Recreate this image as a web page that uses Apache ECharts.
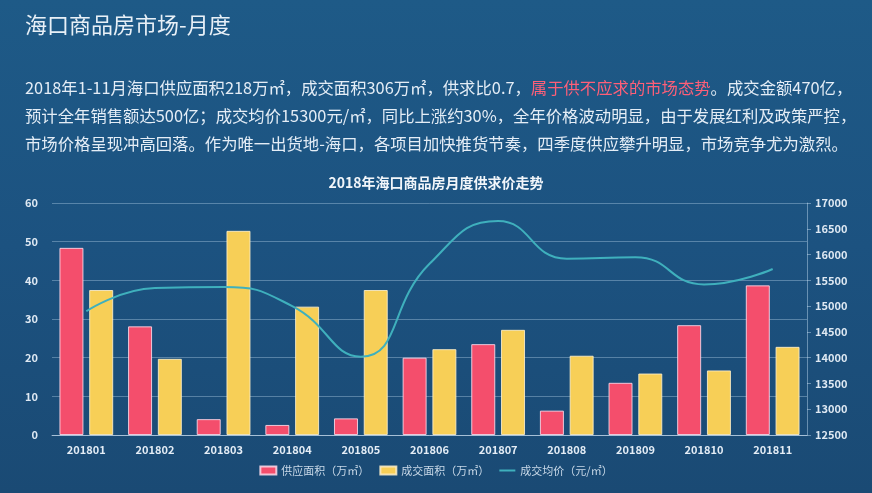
<!DOCTYPE html>
<html>
<head>
<meta charset="utf-8">
<script src="https://cdn.jsdelivr.net/npm/echarts@6/dist/echarts.min.js"></script>
<style>
html,body{margin:0;padding:0;background:#1c5280;}
#c{width:872px;height:493px;}
</style>
</head>
<body>
<div id="c"></div>
<script>
var categories = ['201801','201802','201803','201804','201805','201806','201807','201808','201809','201810','201811'];
var supplyArea = [48.4, 28.1, 4.1, 2.6, 4.3, 20.0, 23.5, 6.3, 13.5, 28.4, 38.7];
var dealArea = [37.5, 19.7, 52.8, 33.2, 37.5, 22.2, 27.2, 20.5, 15.9, 16.7, 22.8];
var avgPrice = [14900, 15350, 15370, 15000, 14020, 15820, 16650, 15920, 15950, 15420, 15720];
var seriesNames = ['供应面积（万㎡）', '成交面积（万㎡）', '成交均价（元/㎡）'];

var FONT = '"Noto Sans CJK SC", "Noto Sans", sans-serif';
var chart = echarts.init(document.getElementById('c'), null, {renderer: 'canvas'});
var txtColor = '#e4edf6';
var PFS = 16.35;

var option = {
  backgroundColor: {
    type: 'linear', x: 0, y: 0, x2: 0, y2: 1,
    colorStops: [
      {offset: 0, color: '#1e5a87'},
      {offset: 0.5, color: '#1c5280'},
      {offset: 1, color: '#1a4a74'}
    ]
  },
  textStyle: {fontFamily: FONT},
  title: [
    {
      text: '海口商品房市场-月度', left: 20, top: 9,
      textStyle: {color: '#e8f0f7', fontSize: 22, fontWeight: 'normal', fontFamily: FONT}
    },
    {
      text: '{a|2018年1-11月海口供应面积218万㎡，成交面积306万㎡，供求比0.7，}{r|属于供不应求的市场态势}{a|。成交金额470亿，}',
      left: 20, top: 75,
      textStyle: {
        fontWeight: 'normal',
        rich: {
          a: {color: txtColor, fontSize: PFS, fontWeight: 'normal', fontFamily: FONT},
          r: {color: '#ff5f78', fontSize: PFS, fontWeight: 'normal', fontFamily: FONT}
        }
      }
    },
    {
      text: '预计全年销售额达500亿；成交均价15300元/㎡，同比上涨约30%，全年价格波动明显，由于发展红利及政策严控，',
      left: 20, top: 103,
      textStyle: {color: txtColor, fontSize: PFS, fontWeight: 'normal', fontFamily: FONT}
    },
    {
      text: '市场价格呈现冲高回落。作为唯一出货地-海口，各项目加快推货节奏，四季度供应攀升明显，市场竞争尤为激烈。',
      left: 20, top: 131,
      textStyle: {color: txtColor, fontSize: PFS, fontWeight: 'normal', fontFamily: FONT}
    },
    {
      text: '2018年海口商品房月度供求价走势', left: 'center', top: 171,
      textStyle: {color: '#f2f6fa', fontSize: 14, fontWeight: 'bold', fontFamily: FONT}
    }
  ],
  legend: {
    bottom: 12, left: 'center',
    itemWidth: 16, itemHeight: 8, itemGap: 10,
    textStyle: {color: '#c9d9e8', fontSize: 11, fontFamily: FONT},
    data: [
      {name: seriesNames[0], icon: 'rect'},
      {name: seriesNames[1], icon: 'rect'},
      {name: seriesNames[2], icon: 'path://M0,0 L16,0 L16,2 L0,2 Z'}
    ]
  },
  grid: {left: 52, right: 65, top: 203, bottom: 58, containLabel: false},
  xAxis: {
    type: 'category', data: categories,
    axisLine: {lineStyle: {color: 'rgba(220,235,250,0.6)'}},
    axisTick: {show: false},
    axisLabel: {color: '#e4edf6', fontSize: 11, fontWeight: 'bold', margin: 9, fontFamily: FONT}
  },
  yAxis: [
    {
      type: 'value', min: 0, max: 60, interval: 10,
      axisLine: {show: false},
      axisTick: {show: false},
      axisLabel: {color: '#dfe9f3', fontSize: 11, fontWeight: 'bold', margin: 14, fontFamily: FONT},
      splitLine: {lineStyle: {color: 'rgba(200,225,245,0.35)', width: 1}}
    },
    {
      type: 'value', min: 12500, max: 17000, interval: 500,
      axisLine: {show: true, lineStyle: {color: 'rgba(200,225,245,0.45)'}},
      axisTick: {show: true, length: 4, lineStyle: {color: 'rgba(200,225,245,0.45)'}},
      axisLabel: {color: '#dfe9f3', fontSize: 11, fontWeight: 'bold', margin: 8, fontFamily: FONT,
        formatter: function (v) { return String(v); }},
      splitLine: {show: false}
    }
  ],
  series: [
    {
      name: seriesNames[0], type: 'bar', data: supplyArea, yAxisIndex: 0,
      barWidth: 24, barGap: '24%',
      itemStyle: {color: '#f44e6c', borderColor: 'rgba(255,220,235,0.85)', borderWidth: 1}
    },
    {
      name: seriesNames[1], type: 'bar', data: dealArea, yAxisIndex: 0,
      barWidth: 24,
      itemStyle: {color: '#f7cf57', borderColor: 'rgba(255,240,200,0.85)', borderWidth: 1}
    },
    {
      name: seriesNames[2], type: 'line', data: avgPrice, yAxisIndex: 1,
      smooth: true, showSymbol: false, symbol: 'none',
      lineStyle: {color: '#3fb0bd', width: 2},
      itemStyle: {color: '#3fb0bd'}
    }
  ]
};
chart.setOption(option);
</script>
</body>
</html>
